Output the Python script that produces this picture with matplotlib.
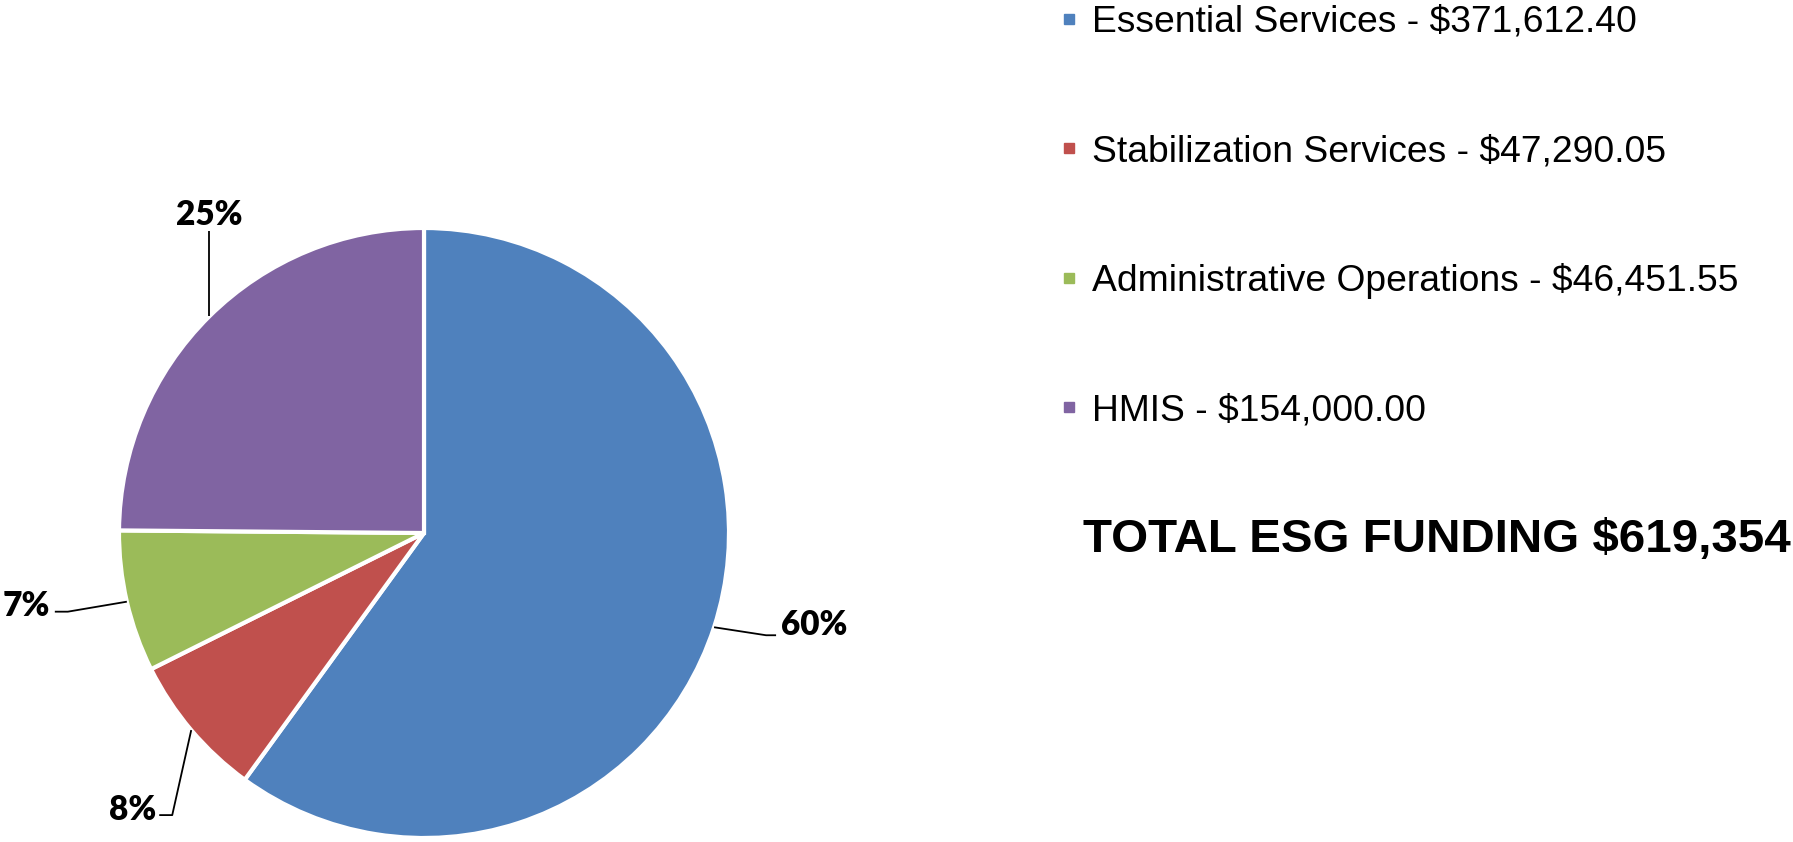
import numpy as np
import matplotlib.pyplot as plt
from matplotlib.lines import Line2D
from matplotlib import font_manager

categories = ['Essential Services', 'Stabilization Services',
              'Administrative Operations', 'HMIS']
amounts = [371612.40, 47290.05, 46451.55, 154000.00]
pct_labels = ['60%', '8%', '7%', '25%']
colors = ['#4F81BD', '#C0504D', '#9BBB59', '#8064A2']
total_text = 'TOTAL ESG FUNDING $619,354'

names = {f.name for f in font_manager.fontManager.ttflist}
label_font = 'Lato' if 'Lato' in names else 'DejaVu Sans'

W, H = 1793, 842
fig = plt.figure(figsize=(W / 100, H / 100), dpi=100)
ax = fig.add_axes([0, 0, 1, 1])

cx, cy, r = 424, H - 533, 305
wedges, _ = ax.pie(amounts, colors=colors, startangle=90, counterclock=False,
                   center=(cx, cy), radius=r,
                   wedgeprops=dict(edgecolor='white', linewidth=3))
ax.set_xlim(0, W)
ax.set_ylim(0, H)
ax.set_aspect('equal')
ax.axis('off')

# leader line bends and label anchors, pixels (x right, y down) from the wedge edge
leaders = [
    [(52, 8), (62, 8)],
    [(-19, 85), (-32, 85)],
    [(-59, 10), (-72, 10)],
    [(0, -85)],
]
text_off = [(67, -2, 'left'), (-35, 80, 'right'),
            (-77, 4, 'right'), (0, -101, 'center')]

for w, lab, pts, (tx, ty, ha) in zip(wedges, pct_labels, leaders, text_off):
    ang = np.deg2rad((w.theta1 + w.theta2) / 2)
    ex, ey = cx + r * np.cos(ang), cy + r * np.sin(ang)
    xs = [ex] + [ex + dx for dx, dy in pts]
    ys = [ey] + [ey - dy for dx, dy in pts]
    ax.plot(xs, ys, color='black', lw=1.3, solid_capstyle='butt')
    ax.text(ex + tx, ey - ty, lab, ha=ha, va='center',
            fontsize=24, fontweight='heavy', family=label_font, color='black')

handles = [Line2D([], [], marker='s', ls='none', color=c, markersize=7.5)
           for c in colors]
labels = [f'{c} - ${a:,.2f}' for c, a in zip(categories, amounts)]
leg = ax.legend(handles, labels, loc='upper left',
                bbox_to_anchor=(1060 / W, 1 - 5 / H), frameon=False,
                prop={'family': 'Liberation Sans', 'size': 26.8},
                labelspacing=2.53, handlelength=0.5, handletextpad=0.35,
                borderaxespad=0, borderpad=0)

ax.text(1083, H - 540, total_text, ha='left', va='center', fontsize=34.2,
        fontweight='bold', family='Liberation Sans', color='black')

fig.savefig('out.png', dpi=100)
